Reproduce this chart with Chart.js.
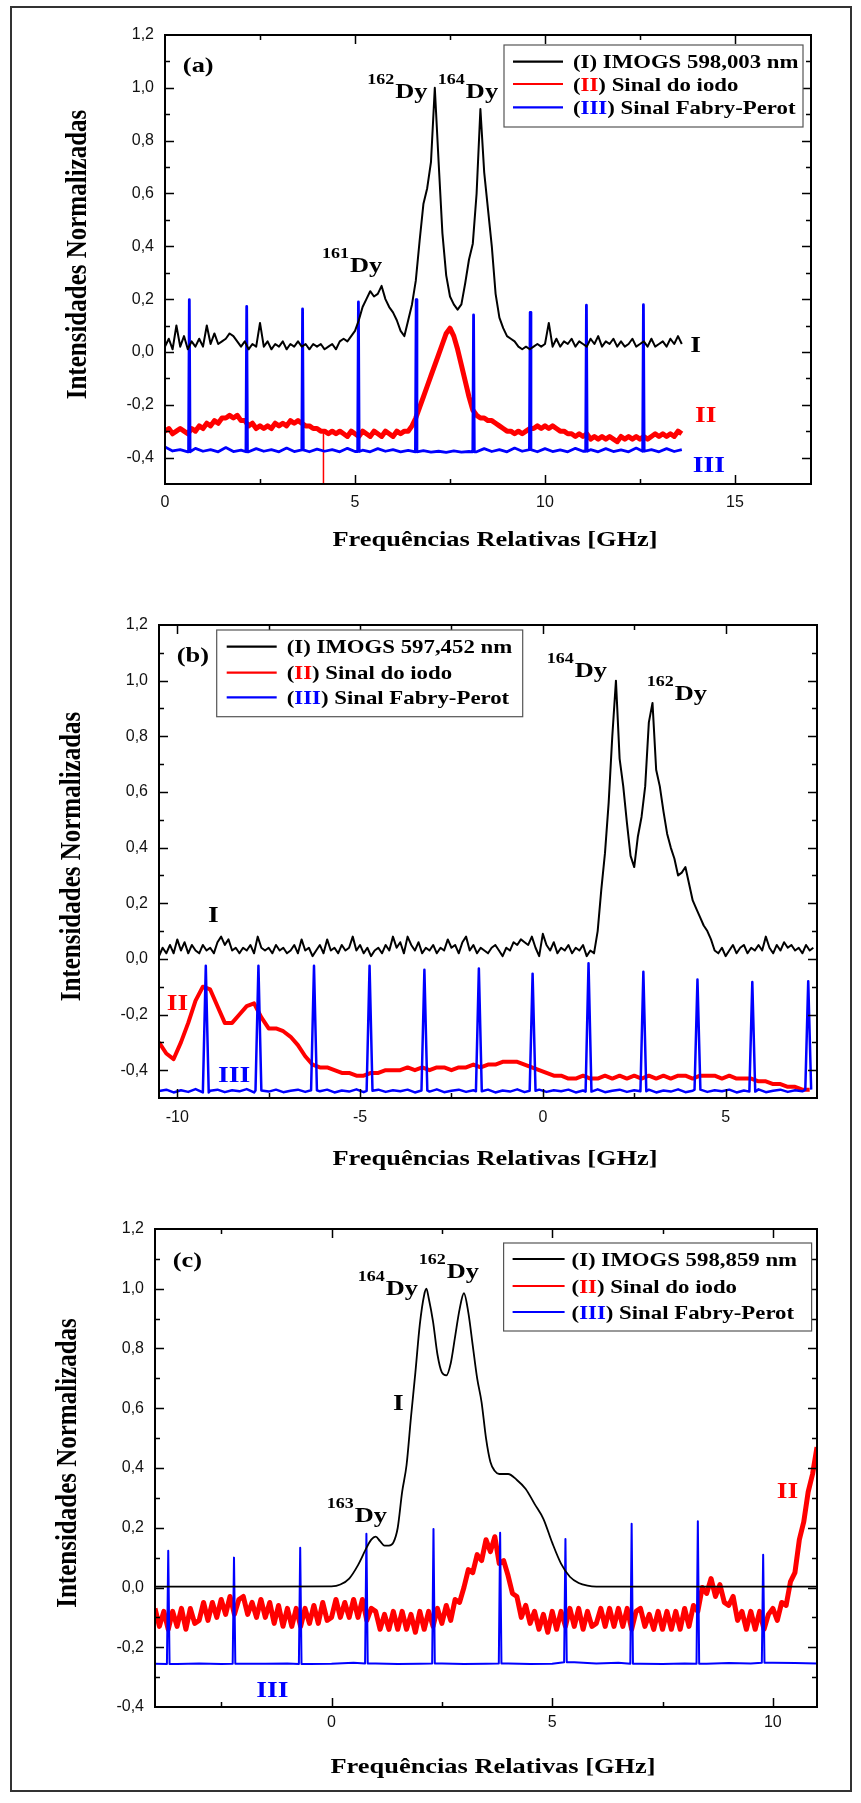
<!DOCTYPE html>
<html>
<head>
<meta charset="utf-8">
<script src="https://cdn.jsdelivr.net/npm/chart.js@4.4.1/dist/chart.umd.min.js"></script>
<style>
html, body { margin: 0; padding: 0; background: #fff; }
#page { position: relative; width: 861px; height: 1803px; overflow: hidden; background: #fff; }
.panel { position: absolute; left: 0; width: 861px; }
.frame { position: absolute; left: 10px; top: 6px; width: 842px; height: 1786px; border: 2px solid #333; box-sizing: border-box; pointer-events: none; }
</style>
</head>
<body>
<div id="page">
  <div class="frame"></div>
  <div class="panel" style="top:0;height:600px"><canvas id="chartA"></canvas></div>
  <div class="panel" style="top:600px;height:600px"><canvas id="chartB"></canvas></div>
  <div class="panel" style="top:1200px;height:603px"><canvas id="chartC"></canvas></div>
</div>
<script>
// ---------- panel (a) : IMOGS 598,003 nm ----------
const a_Istart = 0, a_Istep = 0.1;
const a_I = [
  0.02, 0.05, 0.01, 0.10, 0.02, 0.06, 0.01, 0.04, 0.02, 0.05,
  0.02, 0.10, 0.03, 0.07, 0.03, 0.04, 0.05, 0.07, 0.06, 0.04,
  0.02, 0.04, 0.01, 0.03, 0.02, 0.11, 0.02, 0.04, 0.01, 0.03,
  0.02, 0.04, 0.01, 0.03, 0.02, 0.04, 0.02, 0.03, 0.01, 0.03,
  0.02, 0.03, 0.01, 0.02, 0.03, 0.01, 0.04, 0.05, 0.04, 0.06,
  0.08, 0.12, 0.17, 0.20, 0.23, 0.21, 0.22, 0.25, 0.20, 0.17,
  0.15, 0.12, 0.08, 0.06, 0.12, 0.18, 0.27, 0.42, 0.56, 0.62,
  0.72, 1.00, 0.72, 0.45, 0.29, 0.21, 0.18, 0.16, 0.18, 0.26,
  0.35, 0.41, 0.60, 0.92, 0.68, 0.54, 0.40, 0.22, 0.13, 0.09,
  0.06, 0.05, 0.04, 0.02, 0.01, 0.02, 0.01, 0.02, 0.03, 0.02,
  0.03, 0.11, 0.02, 0.05, 0.02, 0.04, 0.03, 0.05, 0.02, 0.04,
  0.03, 0.02, 0.05, 0.03, 0.06, 0.02, 0.04, 0.03, 0.05, 0.02,
  0.04, 0.02, 0.03, 0.05, 0.02, 0.03, 0.04, 0.02, 0.05, 0.02,
  0.03, 0.04, 0.02, 0.05, 0.03, 0.06, 0.03
];
const a_IIstart = 0, a_IIstep = 0.1;
const a_II = [
  -0.30, -0.29, -0.31, -0.30, -0.29, -0.30, -0.31, -0.29, -0.30, -0.28,
  -0.29, -0.27, -0.28, -0.26, -0.27, -0.25, -0.25, -0.24, -0.25, -0.24,
  -0.26, -0.26, -0.28, -0.27, -0.29, -0.28, -0.29, -0.28, -0.29, -0.27,
  -0.28, -0.27, -0.28, -0.26, -0.27, -0.26, -0.27, -0.28, -0.28, -0.29,
  -0.29, -0.30, -0.30, -0.31, -0.30, -0.31, -0.30, -0.31, -0.32, -0.30,
  -0.31, -0.32, -0.30, -0.31, -0.32, -0.30, -0.31, -0.32, -0.30, -0.31,
  -0.32, -0.30, -0.31, -0.30, -0.30, -0.28, -0.25, -0.21, -0.17, -0.13,
  -0.09, -0.05, -0.01, 0.03, 0.07, 0.09, 0.06, 0.01, -0.05, -0.11,
  -0.17, -0.22, -0.24, -0.25, -0.25, -0.26, -0.26, -0.27, -0.28, -0.29,
  -0.30, -0.30, -0.31, -0.30, -0.31, -0.30, -0.29, -0.29, -0.28, -0.29,
  -0.28, -0.29, -0.28, -0.29, -0.30, -0.30, -0.31, -0.31, -0.32, -0.31,
  -0.32, -0.31, -0.33, -0.32, -0.33, -0.32, -0.33, -0.32, -0.33, -0.34,
  -0.32, -0.33, -0.32, -0.33, -0.32, -0.33, -0.32, -0.33, -0.32, -0.31,
  -0.32, -0.31, -0.32, -0.31, -0.32, -0.30, -0.31
];
const a_IIdropX = [4.17, 4.17];
const a_IIdropY = [-0.31, -0.50];
const a_IIIstart = 0, a_IIIstep = 0.2;
const a_IIIbase = [
  -0.360, -0.375, -0.370, -0.378, -0.365, -0.376, -0.370, -0.378, -0.362, -0.377,
  -0.372, -0.378, -0.366, -0.376, -0.370, -0.378, -0.364, -0.377, -0.371, -0.378,
  -0.368, -0.376, -0.370, -0.378, -0.365, -0.377, -0.372, -0.378, -0.366, -0.376,
  -0.370, -0.378, -0.373, -0.378, -0.374, -0.379, -0.376, -0.380, -0.375, -0.379,
  -0.377, -0.378, -0.366, -0.377, -0.370, -0.378, -0.364, -0.376, -0.370, -0.378,
  -0.366, -0.377, -0.371, -0.378, -0.365, -0.376, -0.370, -0.378, -0.366, -0.377,
  -0.371, -0.378, -0.364, -0.376, -0.370, -0.378, -0.366, -0.377, -0.370
];
const a_fpPos = [0.64, 2.15, 3.62, 5.09, 6.61, 8.12, 9.61, 11.09, 12.59];
const a_fpPeak = [0.198, 0.172, 0.163, 0.189, 0.198, 0.140, 0.150, 0.177, 0.179];

// ---------- panel (b) : IMOGS 597,452 nm ----------
const b_Istart = -10.5, b_Istep = 0.1;
const b_I = [
  0.01, 0.04, 0.02, 0.05, 0.02, 0.07, 0.03, 0.06, 0.02, 0.05,
  0.03, 0.02, 0.05, 0.03, 0.04, 0.02, 0.06, 0.08, 0.05, 0.07,
  0.03, 0.04, 0.02, 0.04, 0.03, 0.05, 0.02, 0.08, 0.04, 0.03,
  0.04, 0.02, 0.05, 0.03, 0.04, 0.02, 0.03, 0.05, 0.02, 0.07,
  0.03, 0.04, 0.01, 0.03, 0.05, 0.02, 0.07, 0.03, 0.04, 0.02,
  0.05, 0.03, 0.04, 0.08, 0.03, 0.05, 0.02, 0.04, 0.01, 0.03,
  0.04, 0.02, 0.05, 0.03, 0.08, 0.04, 0.06, 0.02, 0.08, 0.05,
  0.03, 0.06, 0.02, 0.04, 0.03, 0.05, 0.02, 0.04, 0.03, 0.07,
  0.04, 0.05, 0.02, 0.06, 0.08, 0.03, 0.05, 0.02, 0.04, 0.03,
  0.02, 0.04, 0.05, 0.03, 0.01, 0.04, 0.03, 0.06, 0.05, 0.07,
  0.06, 0.05, 0.08, 0.04, 0.01, 0.09, 0.05, 0.03, 0.06, 0.02,
  0.04, 0.03, 0.05, 0.02, 0.04, 0.03, 0.05, 0.01, 0.03, 0.02,
  0.10, 0.25, 0.38, 0.56, 0.80, 1.00, 0.72, 0.62, 0.49, 0.37,
  0.33, 0.44, 0.51, 0.62, 0.85, 0.92, 0.68, 0.62, 0.53, 0.45,
  0.40, 0.36, 0.30, 0.31, 0.33, 0.27, 0.21, 0.18, 0.15, 0.12,
  0.10, 0.07, 0.03, 0.02, 0.04, 0.01, 0.03, 0.05, 0.02, 0.04,
  0.05, 0.02, 0.04, 0.03, 0.05, 0.03, 0.08, 0.04, 0.02, 0.05,
  0.03, 0.06, 0.04, 0.05, 0.03, 0.04, 0.02, 0.05, 0.03, 0.04
];
const b_IIstart = -10.5, b_IIstep = 0.2;
const b_II = [
  -0.30, -0.34, -0.36, -0.30, -0.23, -0.15, -0.10, -0.11, -0.17, -0.23,
  -0.23, -0.20, -0.17, -0.16, -0.21, -0.25, -0.25, -0.26, -0.28, -0.31,
  -0.35, -0.38, -0.39, -0.39, -0.40, -0.41, -0.41, -0.42, -0.42, -0.41,
  -0.41, -0.40, -0.40, -0.40, -0.39, -0.40, -0.39, -0.40, -0.39, -0.39,
  -0.40, -0.39, -0.39, -0.38, -0.39, -0.38, -0.38, -0.37, -0.37, -0.37,
  -0.38, -0.39, -0.40, -0.41, -0.42, -0.42, -0.43, -0.43, -0.42, -0.43,
  -0.43, -0.42, -0.43, -0.42, -0.43, -0.42, -0.43, -0.42, -0.43, -0.42,
  -0.43, -0.42, -0.42, -0.43, -0.42, -0.42, -0.42, -0.43, -0.42, -0.43,
  -0.43, -0.43, -0.44, -0.44, -0.45, -0.45, -0.46, -0.46, -0.47, -0.47
];
const b_IIIstart = -10.5, b_IIIstep = 0.2;
const b_IIIbase = [
  -0.475, -0.470, -0.480, -0.472, -0.478, -0.468, -0.480, -0.474, -0.470, -0.479,
  -0.472, -0.476, -0.468, -0.480, -0.473, -0.477, -0.470, -0.479, -0.474, -0.470,
  -0.478, -0.472, -0.476, -0.470, -0.480, -0.473, -0.477, -0.469, -0.479, -0.474,
  -0.470, -0.478, -0.472, -0.476, -0.470, -0.480, -0.473, -0.477, -0.469, -0.479,
  -0.474, -0.470, -0.478, -0.472, -0.476, -0.470, -0.480, -0.473, -0.477, -0.469,
  -0.479, -0.474, -0.470, -0.478, -0.472, -0.476, -0.470, -0.480, -0.473, -0.477,
  -0.469, -0.479, -0.474, -0.470, -0.478, -0.472, -0.476, -0.470, -0.480, -0.473,
  -0.477, -0.469, -0.479, -0.474, -0.470, -0.478, -0.472, -0.476, -0.470, -0.480,
  -0.473, -0.477, -0.469, -0.479, -0.474, -0.470, -0.478, -0.472, -0.476, -0.470
];
const b_fpPos = [-9.22, -7.78, -6.26, -4.74, -3.24, -1.75, -0.28, 1.25, 2.75, 4.23, 5.73, 7.26];
const b_fpPeak = [-0.025, -0.025, -0.025, -0.025, -0.039, -0.035, -0.053, -0.016, -0.046, -0.074, -0.083, -0.080];

// ---------- panel (c) : IMOGS 598,859 nm ----------
const c_freqI = [-4, -2, 0, 0.2, 0.4, 0.6, 0.8, 0.9, 1.0, 1.1, 1.2, 1.3, 1.4, 1.5, 1.6, 1.7, 1.8, 1.9, 2.0,
  2.1, 2.15, 2.2, 2.3, 2.4, 2.5, 2.6, 2.7, 2.8, 2.9, 3.0, 3.1, 3.2, 3.3, 3.4, 3.5, 3.6, 3.7, 3.8,
  4.0, 4.2, 4.4, 4.6, 4.8, 5.0, 5.2, 5.4, 5.6, 5.8, 6.0, 8.0, 11.0];
const c_I = [0.003, 0.003, 0.004, 0.010, 0.030, 0.075, 0.135, 0.160, 0.170, 0.155, 0.140, 0.140, 0.150, 0.200, 0.320, 0.410, 0.570, 0.720, 0.880,
  0.980, 1.000, 0.970, 0.890, 0.780, 0.720, 0.710, 0.750, 0.840, 0.930, 0.985, 0.920, 0.810, 0.700, 0.620, 0.500, 0.420, 0.390, 0.380,
  0.380, 0.360, 0.330, 0.280, 0.230, 0.150, 0.080, 0.036, 0.015, 0.006, 0.003, 0.003, 0.003];
const c_IIstart = -4, c_IIstep = 0.1;
const c_II = [
  -0.07, -0.13, -0.08, -0.14, -0.08, -0.13, -0.07, -0.14, -0.07, -0.12,
  -0.11, -0.05, -0.11, -0.05, -0.10, -0.04, -0.09, -0.03, -0.09, -0.04,
  -0.03, -0.09, -0.05, -0.10, -0.04, -0.10, -0.05, -0.12, -0.06, -0.13,
  -0.07, -0.13, -0.07, -0.13, -0.07, -0.12, -0.06, -0.12, -0.05, -0.11,
  -0.10, -0.04, -0.10, -0.05, -0.10, -0.04, -0.10, -0.04, -0.11, -0.07,
  -0.08, -0.14, -0.09, -0.14, -0.08, -0.14, -0.08, -0.14, -0.09, -0.15,
  -0.08, -0.14, -0.08, -0.13, -0.07, -0.12, -0.06, -0.11, -0.04, -0.05,
  0.00, 0.06, 0.05, 0.11, 0.09, 0.16, 0.12, 0.17, 0.08, 0.09,
  0.04, -0.02, -0.03, -0.10, -0.06, -0.12, -0.08, -0.14, -0.09, -0.15,
  -0.08, -0.14, -0.08, -0.13, -0.07, -0.13, -0.07, -0.14, -0.08, -0.13,
  -0.12, -0.07, -0.13, -0.07, -0.13, -0.07, -0.13, -0.07, -0.14, -0.08,
  -0.07, -0.13, -0.09, -0.14, -0.08, -0.14, -0.08, -0.14, -0.08, -0.14,
  -0.07, -0.13, -0.06, -0.08, 0.00, -0.02, 0.03, -0.03, 0.01, -0.05,
  -0.06, -0.03, -0.11, -0.08, -0.14, -0.08, -0.14, -0.08, -0.14, -0.09,
  -0.07, -0.11, -0.05, -0.06, 0.02, 0.05, 0.16, 0.22, 0.32, 0.38,
  0.47
];
const c_IIIstart = -4, c_IIIstep = 0.5;
const c_IIIbase = [
  -0.255, -0.256, -0.254, -0.256, -0.255, -0.255, -0.254, -0.256, -0.255, -0.252, -0.254,
  -0.256, -0.255, -0.254, -0.256, -0.255, -0.254, -0.256, -0.255, -0.250, -0.254,
  -0.252, -0.255, -0.256, -0.254, -0.255, -0.253, -0.254, -0.252, -0.253, -0.254
];
const c_fpPos = [-3.70, -2.21, -0.71, 0.79, 2.31, 3.82, 5.30, 6.80, 8.30, 9.78];
const c_fpPeak = [0.123, 0.100, 0.133, 0.180, 0.196, 0.183, 0.162, 0.213, 0.222, 0.110];

// ---------- ticks / labels ----------
const yMajor = [-0.4, -0.2, 0, 0.2, 0.4, 0.6, 0.8, 1.0, 1.2];
const yMinor = [-0.5, -0.3, -0.1, 0.1, 0.3, 0.5, 0.7, 0.9, 1.1];
const a_xMajor = [0, 5, 10, 15], a_xMinor = [2.5, 7.5, 12.5];
const b_xMajor = [-10, -5, 0, 5], b_xMinor = [-7.5, -2.5, 2.5];
const c_xMajor = [0, 5, 10], c_xMinor = [-2.5, 2.5, 7.5];
const legendNames = ['IMOGS 598,003 nm', 'IMOGS 597,452 nm', 'IMOGS 598,859 nm'];
const xTitle = 'Frequências Relativas [GHz]';
const yTitle = 'Intensidades Normalizadas';

const RED = '#ff0000', BLUE = '#0000ff', BLACK = '#000000';
const SERIF = '"Liberation Serif", "Times New Roman", serif';
const SANS = '"Liberation Sans", Arial, sans-serif';
const SX = 1.2; // the original figure is stretched sideways

function grid(x0, dx, vals) {
  return vals.map((v, i) => ({ x: Math.round((x0 + i * dx) * 1000) / 1000, y: v }));
}
function pairs(xs, ys) {
  return xs.map((x, i) => ({ x: x, y: ys[i] }));
}
// baseline samples plus the Fabry-Perot transmission peaks
function fpTrace(x0, dx, base, pos, peak, hw) {
  const pts = grid(x0, dx, base).filter(p => pos.every(c => Math.abs(p.x - c) > hw));
  pos.forEach((c, k) => {
    const i = Math.min(base.length - 1, Math.max(0, Math.round((c - x0) / dx)));
    pts.push({ x: c - hw, y: base[i] }, { x: c, y: peak[k] }, { x: c + hw, y: base[i] });
  });
  return pts.sort((p, q) => p.x - q.x);
}

function stretchText(ctx, str, x, y, size, color, align) {
  ctx.save();
  ctx.font = 'bold ' + size + 'px ' + SERIF;
  ctx.fillStyle = color || BLACK;
  ctx.textBaseline = 'alphabetic';
  ctx.textAlign = 'left';
  const w = ctx.measureText(str).width * SX;
  ctx.translate(align === 'center' ? x - w / 2 : x, y);
  ctx.scale(SX, 1);
  ctx.fillText(str, 0, 0);
  ctx.restore();
  return w;
}

const panelDeco = {
  id: 'panelDeco',
  afterDatasetsDraw(chart, args, o) {
    const ctx = chart.ctx, ca = chart.chartArea;
    const xs = chart.scales.x, ys = chart.scales.y;
    ctx.save();
    ctx.strokeStyle = BLACK;
    ctx.lineWidth = 1.5;
    const xTick = (v, len) => {
      if (v <= xs.min || v >= xs.max) return;
      const px = Math.round(xs.getPixelForValue(v)) + 0.5;
      ctx.beginPath();
      ctx.moveTo(px, ca.bottom); ctx.lineTo(px, ca.bottom - len);
      ctx.moveTo(px, ca.top); ctx.lineTo(px, ca.top + len);
      ctx.stroke();
    };
    const yTick = (v, len) => {
      if (v <= ys.min || v >= ys.max) return;
      const py = Math.round(ys.getPixelForValue(v)) + 0.5;
      ctx.beginPath();
      ctx.moveTo(ca.left, py); ctx.lineTo(ca.left + len, py);
      ctx.moveTo(ca.right, py); ctx.lineTo(ca.right - len, py);
      ctx.stroke();
    };
    o.xMajor.forEach(v => xTick(v, 9));
    o.xMinor.forEach(v => xTick(v, 5));
    yMajor.forEach(v => yTick(v, 9));
    yMinor.forEach(v => yTick(v, 5));
    ctx.lineWidth = 2;
    ctx.strokeRect(ca.left, ca.top, ca.right - ca.left, ca.bottom - ca.top);

    // axis titles
    stretchText(ctx, xTitle, (ca.left + ca.right) / 2 + 7, ca.bottom + o.xTitleDy, 22, BLACK, 'center');
    ctx.save();
    ctx.translate(ca.left - 79, (ca.top + ca.bottom) / 2 - 5);
    ctx.rotate(-Math.PI / 2);
    ctx.scale(1, SX);
    ctx.font = 'bold 25px ' + SERIF;
    ctx.fillStyle = BLACK;
    ctx.textAlign = 'center';
    ctx.textBaseline = 'alphabetic';
    ctx.fillText(yTitle, 0, 0);
    ctx.restore();

    // peak and trace labels
    o.labels.forEach(l => {
      const px = xs.getPixelForValue(l.x), py = ys.getPixelForValue(l.y);
      if (l.sup) {
        const w = stretchText(ctx, l.sup, px, py - 14, 15, BLACK);
        stretchText(ctx, l.text, px + w + 1, py, 22, BLACK);
      } else {
        stretchText(ctx, l.text, px, py, l.size || 23, l.color || BLACK);
      }
    });

    // legend box
    const g = o.legend;
    const L = ca.left + g.left, T = ca.top + g.top;
    ctx.fillStyle = '#fff';
    ctx.fillRect(L, T, g.w, g.h);
    ctx.strokeStyle = '#555';
    ctx.lineWidth = 1.2;
    ctx.strokeRect(L, T, g.w, g.h);
    const rows = [
      { color: BLACK, parts: [['(I) ' + g.name, BLACK]] },
      { color: RED, parts: [['(', BLACK], ['II', RED], [') Sinal do iodo', BLACK]] },
      { color: BLUE, parts: [['(', BLACK], ['III', BLUE], [') Sinal Fabry-Perot', BLACK]] }
    ];
    rows.forEach((r, k) => {
      const ry = ca.top + g.rows[k];
      ctx.strokeStyle = r.color;
      ctx.lineWidth = 2.2;
      ctx.beginPath();
      ctx.moveTo(ca.left + g.x0, ry); ctx.lineTo(ca.left + g.x1, ry);
      ctx.stroke();
      let tx = ca.left + g.tx;
      r.parts.forEach(p => { tx += stretchText(ctx, p[0], tx, ry + 6.5, 19, p[1]); });
    });
    ctx.restore();
  }
};

function makePanel(id, cfg) {
  return new Chart(document.getElementById(id), {
    type: 'line',
    data: { datasets: cfg.datasets },
    options: {
      responsive: true,
      maintainAspectRatio: false,
      animation: false,
      layout: { padding: cfg.pad },
      plugins: { legend: { display: false }, tooltip: { enabled: false }, panelDeco: cfg.deco },
      elements: { point: { radius: 0 }, line: { borderJoinStyle: 'round', tension: 0 } },
      scales: {
        x: {
          type: 'linear', min: cfg.xMin, max: cfg.xMax,
          afterBuildTicks: s => { s.ticks = cfg.deco.xMajor.map(v => ({ value: v })); },
          afterFit: s => { s.height = 40; },
          grid: { display: false, drawTicks: false },
          border: { display: false },
          ticks: { padding: cfg.xPad, autoSkip: false, maxRotation: 0, color: '#111',
                   font: { family: SANS, size: 16 }, callback: v => String(v) }
        },
        y: {
          type: 'linear', min: cfg.yMin, max: 1.2,
          afterBuildTicks: s => { s.ticks = yMajor.map(v => ({ value: v })); },
          afterFit: s => { s.width = 60; },
          grid: { display: false, drawTicks: false },
          border: { display: false },
          ticks: { padding: 11, color: '#111', font: { family: SANS, size: 16 },
                   callback: v => v.toFixed(1).replace('.', ',') }
        }
      }
    },
    plugins: [panelDeco]
  });
}

makePanel('chartA', {
  pad: { left: 105, right: 50, top: 35, bottom: 76 },
  xMin: 0, xMax: 17, yMin: -0.5, xPad: 9,
  datasets: [
    { data: grid(a_Istart, a_Istep, a_I), borderColor: BLACK, borderWidth: 2 },
    { data: fpTrace(a_IIIstart, a_IIIstep, a_IIIbase, a_fpPos, a_fpPeak, 0.02), borderColor: BLUE, borderWidth: 2.8 },
    { data: grid(a_IIstart, a_IIstep, a_II), borderColor: RED, borderWidth: 5 },
    { data: pairs(a_IIdropX, a_IIdropY), borderColor: RED, borderWidth: 1.5 }
  ],
  deco: {
    xMajor: a_xMajor, xMinor: a_xMinor, xTitleDy: 62,
    labels: [
      { text: '(a)', x: 0.47, y: 1.06, size: 22 },
      { sup: '162', text: 'Dy', x: 5.32, y: 0.961 },
      { sup: '164', text: 'Dy', x: 7.18, y: 0.961 },
      { sup: '161', text: 'Dy', x: 4.13, y: 0.303 },
      { text: 'I', x: 13.82, y: 0.0 },
      { text: 'II', x: 13.95, y: -0.265, color: RED },
      { text: 'III', x: 13.89, y: -0.454, color: BLUE }
    ],
    legend: { name: legendNames[0], left: 339, top: 10, w: 299, h: 82, x0: 348, x1: 398, tx: 408, rows: [26.7, 49, 72.3] }
  }
});

makePanel('chartB', {
  pad: { left: 99, right: 44, top: 25, bottom: 62 },
  xMin: -10.5, xMax: 7.5, yMin: -0.5, xPad: 10,
  datasets: [
    { data: grid(b_Istart, b_Istep, b_I), borderColor: BLACK, borderWidth: 2 },
    { data: fpTrace(b_IIIstart, b_IIIstep, b_IIIbase, b_fpPos, b_fpPeak, 0.08), borderColor: BLUE, borderWidth: 2.5 },
    { data: grid(b_IIstart, b_IIstep, b_II), borderColor: RED, borderWidth: 4 }
  ],
  deco: {
    xMajor: b_xMajor, xMinor: b_xMinor, xTitleDy: 67,
    labels: [
      { text: '(b)', x: -10.016, y: 1.067, size: 22 },
      { sup: '164', text: 'Dy', x: 0.104, y: 1.014 },
      { sup: '162', text: 'Dy', x: 2.84, y: 0.93 },
      { text: 'I', x: -9.16, y: 0.134 },
      { text: 'II', x: -10.29, y: -0.184, color: RED },
      { text: 'III', x: -8.886, y: -0.442, color: BLUE }
    ],
    legend: { name: legendNames[1], left: 57.7, top: 5, w: 306, h: 86.7, x0: 67.7, x1: 117.7, tx: 127.7, rows: [21.7, 47.7, 72.3] }
  }
});

makePanel('chartC', {
  pad: { left: 95, right: 44, top: 29, bottom: 56 },
  xMin: -4, xMax: 11, yMin: -0.4, xPad: 6,
  datasets: [
    { data: pairs(c_freqI, c_I), borderColor: BLACK, borderWidth: 1.8, cubicInterpolationMode: 'monotone' },
    { data: fpTrace(c_IIIstart, c_IIIstep, c_IIIbase, c_fpPos, c_fpPeak, 0.03), borderColor: BLUE, borderWidth: 2 },
    { data: grid(c_IIstart, c_IIstep, c_II), borderColor: RED, borderWidth: 5 }
  ],
  deco: {
    xMajor: c_xMajor, xMinor: c_xMinor, xTitleDy: 66,
    labels: [
      { text: '(c)', x: -3.6, y: 1.073, size: 22 },
      { sup: '164', text: 'Dy', x: 0.594, y: 0.979 },
      { sup: '162', text: 'Dy', x: 1.977, y: 1.036 },
      { sup: '163', text: 'Dy', x: -0.109, y: 0.22 },
      { text: 'I', x: 1.395, y: 0.594 },
      { text: 'III', x: -1.703, y: -0.366, color: BLUE },
      { text: 'II', x: 10.088, y: 0.299, color: RED }
    ],
    legend: { name: legendNames[2], left: 348.6, top: 14, w: 308, h: 88, x0: 357.6, x1: 409.6, tx: 416.6, rows: [30, 57, 83] }
  }
});
</script>
</body>
</html>
